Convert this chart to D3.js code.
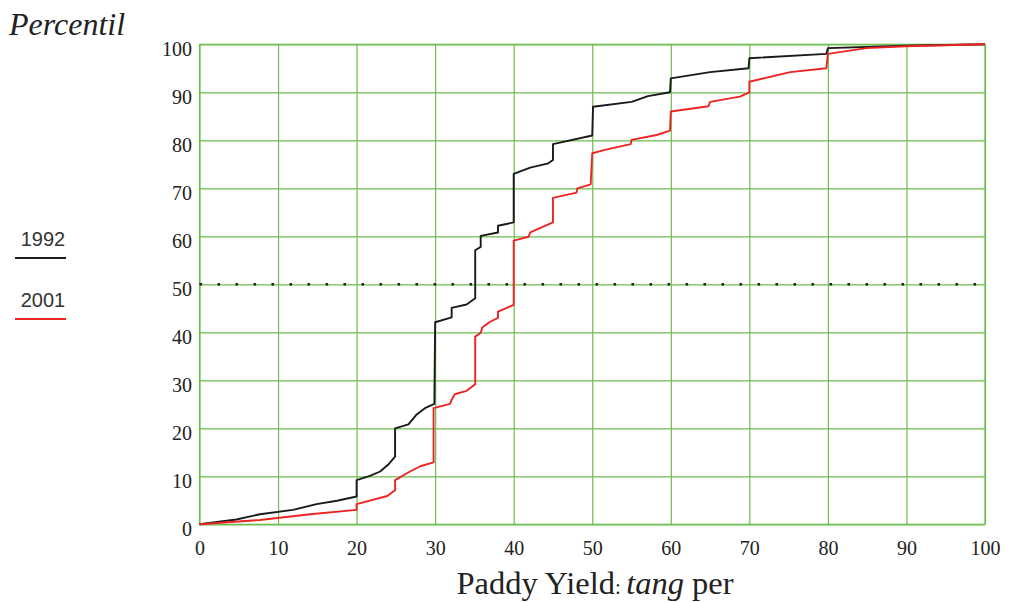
<!DOCTYPE html>
<html>
<head>
<meta charset="utf-8">
<script src="https://cdn.jsdelivr.net/npm/d3@7"></script>
<style>
    body { margin: 0; background: #fff; }
    svg { display: block; }
    .tick text { font-family: "Liberation Serif", "Times New Roman", serif; font-size: 20px; fill: #222; }
    .grid line { stroke: #6cbd4c; stroke-width: 1.2; }
</style>
</head>
<body>
<svg id="chart" width="1010" height="603"></svg>
<script>
// --- Data ---
const xTicks = [0, 10, 20, 30, 40, 50, 60, 70, 80, 90, 100];
const yTicks = [0, 10, 20, 30, 40, 50, 60, 70, 80, 90, 100];
const seriesNames = ['1992', '2001'];
const seriesColors = ['#1a1a1a', '#ee2424'];

// [yield, percentile]
const curve1992 = [
    [0, 0], [4.7, 1.0], [7.7, 2.1], [11.9, 3.0], [14.9, 4.2], [17.5, 4.9], [20, 5.8],
    [20, 9.2], [21.7, 10.1], [23, 11], [24, 12.4], [24.9, 14.1], [24.9, 20.0],
    [26.6, 20.8], [27.6, 22.8], [28.7, 24.2], [29.9, 25.1], [30, 42.1], [32.1, 43.1],
    [32.1, 45.1], [34, 45.8], [35.1, 47.1], [35.1, 57.1], [35.8, 57.8], [35.8, 60.1],
    [38, 60.8], [38, 62.2], [40, 62.9], [40, 73.0], [42.1, 74.3], [44.4, 75.2],
    [45, 75.9], [45, 79.2], [50, 81.0], [50.1, 87.0], [55, 88.0], [57.1, 89.2],
    [59.9, 90], [60, 92.9], [65, 94.2], [69.9, 95.0], [70, 97.1], [79.8, 98.0],
    [80, 99.2], [89.9, 99.7], [100, 100]
];
const curve2001 = [
    [0, 0], [7.7, 0.9], [14.1, 2.1], [20, 3.0], [20, 4.2], [23.9, 5.9], [24.9, 7.1],
    [24.9, 9.2], [26.8, 11], [28.1, 12.1], [29.8, 12.9], [29.8, 24.2], [31.9, 25.1],
    [32.1, 25.9], [32.5, 27.1], [34, 27.8], [35.1, 29.2], [35.1, 39.1], [35.8, 39.9],
    [36, 41], [37, 42.2], [38, 43], [38, 44.3], [40, 45.7], [40, 59.1], [41.9, 59.9],
    [42.1, 60.8], [45, 62.9], [45, 68.0], [48, 69.1], [48.1, 70.0], [49.8, 70.8],
    [50, 77.3], [51.6, 78], [54.9, 79.2], [55, 80.1], [58.2, 81.1], [59.9, 82.0],
    [60, 86.0], [64.8, 87.1], [65, 88.0], [68.8, 89.1], [70, 90.0], [70, 92.2],
    [75.2, 94.2], [79.8, 95.0], [80, 98.0], [84.9, 99.2], [89.9, 99.6], [100, 100]
];
const medianLevel = 50;

// --- Layout ---
const PLOT = { left: 199.5, right: 985, top: 44.3, bottom: 524.3 };
const W = PLOT.right - PLOT.left;
const H = PLOT.bottom - PLOT.top;

const svg = d3.select('#chart');

const x = d3.scaleLinear().domain([0, 100]).range([PLOT.left, PLOT.right]);
const y = d3.scaleLinear().domain([0, 100]).range([PLOT.bottom, PLOT.top]);

// vertical grid + x labels
const xAxisG = svg.append('g')
    .attr('class', 'grid')
    .attr('transform', `translate(0,${PLOT.bottom})`)
    .call(d3.axisBottom(x).tickValues(xTicks).tickSize(-H).tickFormat(d3.format('d')));
xAxisG.select('.domain').remove();
xAxisG.selectAll('.tick text').attr('y', 31).attr('dy', 0);

// horizontal grid + y labels
const yAxisG = svg.append('g')
    .attr('class', 'grid')
    .attr('transform', `translate(${PLOT.left},0)`)
    .call(d3.axisLeft(y).tickValues(yTicks).tickSize(-W).tickFormat(d3.format('d')));
yAxisG.select('.domain').remove();
yAxisG.selectAll('.tick text').attr('x', -7.5).attr('dy', '0.55em');

// plot frame
svg.append('rect')
    .attr('x', PLOT.left).attr('y', PLOT.top)
    .attr('width', W).attr('height', H)
    .attr('fill', 'none')
    .attr('stroke', '#6cbd4c')
    .attr('stroke-width', 1.2);

// dotted 50th percentile line
svg.append('line')
    .attr('x1', x(0)).attr('x2', x(100))
    .attr('y1', y(medianLevel)).attr('y2', y(medianLevel))
    .attr('stroke', '#222')
    .attr('stroke-width', 2.6)
    .attr('stroke-dasharray', '2.6,15.4');

// curves
const line = d3.line().x(d => x(d[0])).y(d => y(d[1]));
[curve1992, curve2001].forEach((data, i) => {
    svg.append('path')
        .datum(data)
        .attr('fill', 'none')
        .attr('stroke', seriesColors[i])
        .attr('stroke-width', 1.9)
        .attr('stroke-linejoin', 'round')
        .attr('d', line);
});

// legend
const legendY = [246, 307];
seriesNames.forEach((name, i) => {
    svg.append('text')
        .attr('x', 43).attr('y', legendY[i])
        .attr('text-anchor', 'middle')
        .attr('font-family', '"Liberation Sans", Arial, sans-serif')
        .attr('font-size', 20)
        .attr('fill', '#333')
        .text(name);
    svg.append('line')
        .attr('x1', 15).attr('x2', 66)
        .attr('y1', legendY[i] + 12).attr('y2', legendY[i] + 12)
        .attr('stroke', seriesColors[i])
        .attr('stroke-width', 1.8);
});

// y title
svg.append('text')
    .attr('x', 9).attr('y', 35)
    .attr('font-family', '"Liberation Serif", "Times New Roman", serif')
    .attr('font-style', 'italic')
    .attr('font-size', 32)
    .attr('fill', '#222')
    .text('Percentil');

// x title
const xt = svg.append('text')
    .attr('x', (457 + 733) / 2).attr('y', 594)
    .attr('text-anchor', 'middle')
    .attr('font-family', '"Liberation Serif", "Times New Roman", serif')
    .attr('font-size', 32.5)
    .attr('fill', '#222');
xt.append('tspan').text('Paddy Yield');
xt.append('tspan').attr('font-size', 21).text(': ');
xt.append('tspan').attr('font-style', 'italic').text('tang');
xt.append('tspan').text(' per');
</script>
</body>
</html>
